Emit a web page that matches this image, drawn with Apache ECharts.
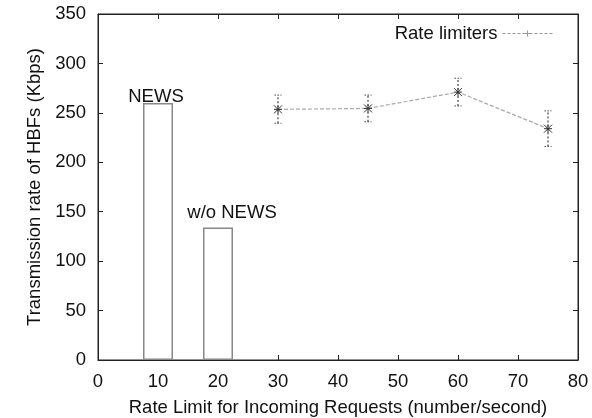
<!DOCTYPE html>
<html><head><meta charset="utf-8">
<script src="https://cdn.jsdelivr.net/npm/echarts@6/dist/echarts.min.js"></script>
<style>html,body{margin:0;padding:0;background:#fff}#c{width:592px;height:418px}</style>
</head><body><div id="c"></div>
<script>
const barX = [10, 20];
const barValues = [260, 134];
const barLabels = ['NEWS', 'w/o NEWS'];
const rateX = [30, 45, 60, 75];
const rateValues = [253.5, 254.5, 271, 234];
const rateLow = [239.5, 241, 257, 216];
const rateHigh = [268, 268, 285, 252];
const xTicks = [0, 10, 20, 30, 40, 50, 60, 70, 80];
const yTicks = [0, 50, 100, 150, 200, 250, 300, 350];

const FONT = 'Liberation Sans';
const FS = 18.5;
const chart = echarts.init(document.getElementById('c'), null, {renderer: 'canvas'});
const axisLine = {show: true, onZero: false, lineStyle: {color: '#222', width: 1}};
const tick = {show: true, inside: true, length: 5, lineStyle: {color: '#222'}};
const labelOffsets = [[-2, 3], [14, 0]];
const legendIcon = 'path://M0,4L3,4M5,4L8,4M10,4L13,4M15,4L18,4M20,4L23,4M27,4L30,4M32,4L35,4M37,4L40,4M42,4L45,4M47,4L50,4M25,1L25,7M22,4L28,4';

chart.setOption({
  animation: false,
  textStyle: {fontFamily: FONT},
  grid: {left: 98, right: 14, top: 14, bottom: 58, containLabel: false, outerBoundsMode: 'none',
    show: true, borderColor: '#222', borderWidth: 1, backgroundColor: 'transparent'},
  legend: {
    show: true, right: 32, top: 19, align: 'right', itemWidth: 50, itemHeight: 6, itemGap: 10,
    textStyle: {fontFamily: FONT, fontSize: FS, color: '#111'},
    data: [{name: 'Rate limiters', icon: legendIcon,
      itemStyle: {color: 'none', borderColor: '#999', borderWidth: 1}}]
  },
  xAxis: [{
    type: 'value', min: xTicks[0], max: xTicks[xTicks.length - 1], interval: 10,
    axisLine, axisTick: tick, splitLine: {show: false},
    axisLabel: {fontFamily: FONT, fontSize: FS, color: '#111', margin: 12},
    name: 'Rate Limit for Incoming Requests (number/second)', nameLocation: 'middle', nameGap: 38,
    nameTextStyle: {fontFamily: FONT, fontSize: FS, color: '#111'}
  }, {
    type: 'value', position: 'top', min: xTicks[0], max: xTicks[xTicks.length - 1], interval: 10,
    axisLine, axisTick: tick, axisLabel: {show: false}, splitLine: {show: false}
  }],
  yAxis: [{
    type: 'value', min: yTicks[0], max: yTicks[yTicks.length - 1], interval: 50,
    axisLine, axisTick: tick, splitLine: {show: false},
    axisLabel: {fontFamily: FONT, fontSize: FS, color: '#111', margin: 12},
    name: 'Transmission rate of HBFs (Kbps)', nameLocation: 'middle', nameGap: 53,
    nameTextStyle: {fontFamily: FONT, fontSize: FS, color: '#111'}
  }, {
    type: 'value', position: 'right', min: yTicks[0], max: yTicks[yTicks.length - 1], interval: 50,
    axisLine, axisTick: tick, axisLabel: {show: false}, splitLine: {show: false}
  }],
  series: [{
    type: 'bar', name: 'bars', barWidth: 30,
    data: barX.map((x, i) => ({
      value: [x, barValues[i]],
      label: {show: true, position: 'top', distance: i === 0 ? 0 : 5, offset: labelOffsets[i],
        formatter: barLabels[i], fontFamily: FONT, fontSize: FS, color: '#111'}
    })),
    itemStyle: {color: '#fff', borderColor: '#888', borderWidth: 1.5},
    z: 1
  }, {
    type: 'custom', name: 'err',
    data: rateX.map((x, i) => [x, rateLow[i], rateHigh[i]]),
    renderItem: function (params, api) {
      const lo = api.coord([api.value(0), api.value(1)]);
      const hi = api.coord([api.value(0), api.value(2)]);
      const w = 3.5;
      const st = {stroke: '#444', lineWidth: 1.2, lineDash: [2, 2]};
      const cap = {stroke: '#444', lineWidth: 1, lineDash: [1.5, 1.5]};
      return {type: 'group', children: [
        {type: 'line', shape: {x1: lo[0], y1: lo[1], x2: hi[0], y2: hi[1]}, style: st},
        {type: 'line', shape: {x1: lo[0] - w, y1: lo[1], x2: lo[0] + w, y2: lo[1]}, style: cap},
        {type: 'line', shape: {x1: hi[0] - w, y1: hi[1], x2: hi[0] + w, y2: hi[1]}, style: cap}
      ]};
    },
    z: 2
  }, {
    type: 'line', name: 'Rate limiters',
    data: rateX.map((x, i) => [x, rateValues[i]]),
    symbol: 'path://M0,0L10,10M10,0L0,10M5,0L5,10M0,5L10,5', symbolSize: 8,
    lineStyle: {color: '#aaa', width: 1.2, type: [4, 2]},
    itemStyle: {color: '#333', borderColor: '#333', borderWidth: 1},
    z: 3
  }]
});
</script></body></html>
